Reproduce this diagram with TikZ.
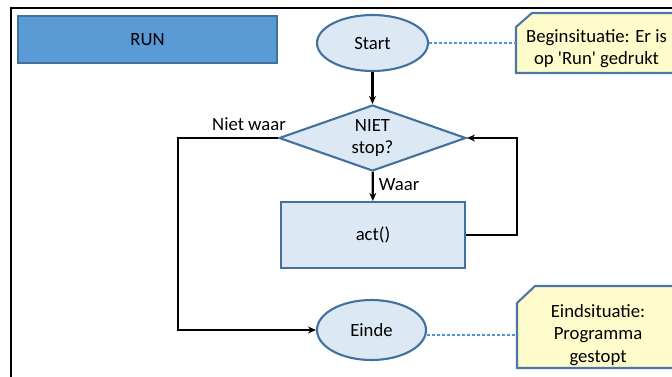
\documentclass[tikz,border=0pt]{standalone}
\usepackage{fontspec}
\setmainfont{Carlito}
\usetikzlibrary{shapes.geometric,arrows.meta}
\definecolor{bord}{HTML}{41719C}
\definecolor{runfill}{HTML}{5B9BD5}
\definecolor{lightfill}{HTML}{DDE8F5}
\definecolor{notefill}{HTML}{FFFCCB}
\definecolor{notebord}{HTML}{4A76A8}
\definecolor{dashc}{HTML}{4F94DA}
\tikzset{
  every node/.style={font=\fontsize{18.7}{22.5}\selectfont, inner sep=0pt, align=center},
  term/.style={ellipse, draw=bord, line width=2.1pt, fill=lightfill},
  decis/.style={diamond, draw=bord, line width=2.1pt, fill=lightfill, aspect=2.83, minimum width=187pt, minimum height=66pt},
  procbox/.style={rectangle, draw=bord, line width=2.1pt, fill=lightfill, minimum width=184pt, minimum height=66pt},
  flow/.style={line width=2.3pt, -{Stealth[length=8pt,width=7pt]}},
  notebox/.style={draw=notebord, line width=2.1pt, fill=notefill},
  dashlink/.style={draw=dashc, line width=1.1pt, dash pattern=on 3pt off 2pt},
}
\begin{document}
\begin{tikzpicture}[x=1pt,y=-1pt]
\useasboundingbox (0,0) rectangle (672,376);
\clip (0,0) rectangle (672,376);
% frame
\draw[line width=2.6pt] (11,400) -- (11,8) -- (700,8);
% RUN box
\node[rectangle, draw=bord, line width=2.1pt, fill=runfill, minimum width=259pt, minimum height=47pt] (run) at (147.5,39.5) {RUN};
% notes
\path[notebox] (516,27) -- (532,13) -- (700,13) -- (700,73) -- (516,73) -- cycle;
\node (note1) at (596.5,48.5) {Beginsituatie: Er is\\op \textquotesingle Run\textquotesingle{} gedrukt};
\coordinate (n1w) at (516,43);
\path[notebox] (517,303) -- (535,286) -- (700,286) -- (700,368) -- (517,368) -- cycle;
\node (note2) at (598,335) {Eindsituatie:\\Programma\\gestopt};
\coordinate (n2w) at (517,335);
% flow nodes
\node[term, minimum width=111pt, minimum height=56pt] (start) at (372.5,43) {Start};
\node[decis] (dec) at (372.5,138) {NIET\\stop?};
\node[procbox] (act) at (373,235) {act()};
\node[term, minimum width=109pt, minimum height=60pt] (einde) at (371.5,330) {Einde};
% dashed links
\draw[dashlink] (start.east) -- (n1w);
\draw[dashlink] (einde.east |- n2w) -- (n2w);
% connectors
\draw[flow] (start) -- (dec);
\draw[flow] (dec) -- node[right=5pt, pos=0.45] {Waar} (act);
\coordinate (loopc) at (517,235);
\draw[flow] (act.east) -- (loopc) |- (dec.east);
\coordinate (leftc) at (178,138);
\draw[flow] (dec.west) -- (leftc) |- (einde.west);
\node (nw) at (249,124) {Niet waar};
\end{tikzpicture}
\end{document}
